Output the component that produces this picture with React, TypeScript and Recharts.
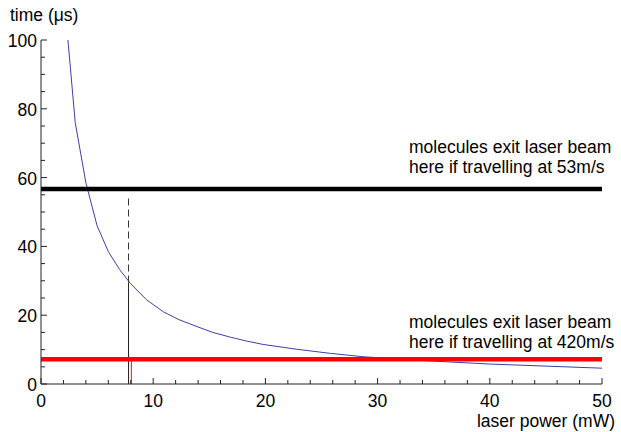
import React from "react"
import {
  ComposedChart,
  Line,
  XAxis,
  YAxis,
  ReferenceLine,
} from "recharts"

// values
const powerMw = [2.4, 3.05, 4, 5, 6, 7, 7.95, 9.4, 10.9, 12.3, 13.9, 15.3, 16.9, 18.3, 19.8, 21.3, 22.8, 25.8, 28.8, 30.3, 34.7, 40, 45, 50]
const timeUs = [100, 76, 58.5, 46, 38.5, 33.3, 29.3, 24.5, 21, 18.7, 16.7, 15, 13.6, 12.5, 11.5, 10.8, 10.1, 8.9, 7.9, 7.6, 6.7, 5.8, 5.2, 4.6]

const xTicks = [0, 2, 4, 6, 8, 10, 12, 14, 16, 18, 20, 22, 24, 26, 28, 30, 32, 34, 36, 38, 40, 42, 44, 46, 48, 50]
const yTicks = [0, 5, 10, 15, 20, 25, 30, 35, 40, 45, 50, 55, 60, 65, 70, 75, 80, 85, 90, 95, 100]

const slowExit = 56.7 // 53 m/s
const fastExit = 7.2 // 420 m/s
const markPower = 7.8
const markTime = 29.5
const dashTop = 54.3
const redMarkPower = 8.05

const data = powerMw.map((p, i) => ({ p, t: timeUs[i] }))

const font = "'Liberation Sans', Arial, sans-serif"
const fs = 17.5
const axisColor = "#222"

function XTick(props: any) {
  const { x, y, payload } = props
  const v = payload.value
  const major = v % 10 === 0
  return (
    <g>
      <line x1={x} x2={x} y1={y} y2={y - (major ? 6 : 4)} stroke={axisColor} />
      {major && (
        <text x={x} y={y + 23} textAnchor="middle" fontSize={fs} fontFamily={font} fill="#000">
          {v}
        </text>
      )}
    </g>
  )
}

function YTick(props: any) {
  const { x, y, payload } = props
  const v = payload.value
  const major = v % 20 === 0
  return (
    <g>
      <line x1={x} x2={x + (major ? 6 : 4)} y1={y} y2={y} stroke={axisColor} />
      {major && (
        <text x={x - 4} y={y + 7} textAnchor="end" fontSize={fs} fontFamily={font} fill="#000">
          {v}
        </text>
      )}
    </g>
  )
}

function note(lines: string[], off1: number, off2: number) {
  return (props: any) => {
    const vb = props.viewBox
    return (
      <g fontSize={fs} fontFamily={font} fill="#000">
        <text x={409} y={vb.y + off1}>{lines[0]}</text>
        <text x={409} y={vb.y + off2}>{lines[1]}</text>
      </g>
    )
  }
}

export default function App() {
  return (
    <div style={{ position: "absolute", left: 0, top: 0, background: "#fff" }}>
      <ComposedChart
        width={621}
        height={432}
        data={data}
        margin={{ top: 40, right: 19, bottom: 18, left: 0 }}
      >
        <XAxis
          dataKey="p"
          type="number"
          domain={[0, 50]}
          ticks={xTicks}
          interval={0}
          tick={<XTick />}
          tickLine={false}
          tickSize={0}
          tickMargin={0}
          height={30}
          axisLine={{ stroke: axisColor }}
          label={(props: any) => {
            const vb = props.viewBox
            return (
              <text
                x={vb.x + vb.width + 13}
                y={vb.y + 43}
                textAnchor="end"
                fontSize={fs}
                fontFamily={font}
                fill="#000"
              >
                laser power (mW)
              </text>
            )
          }}
        />
        <YAxis
          type="number"
          domain={[0, 100]}
          ticks={yTicks}
          interval={0}
          tick={<YTick />}
          tickLine={false}
          tickSize={0}
          tickMargin={0}
          width={41}
          axisLine={{ stroke: axisColor }}
          label={(props: any) => {
            const vb = props.viewBox
            return (
              <text x={vb.x + 10} y={vb.y - 19} fontSize={fs} fontFamily={font} fill="#000">
                time (μs)
              </text>
            )
          }}
        />
        <Line
          dataKey="t"
          type="linear"
          stroke="#3f3fa6"
          strokeWidth={1}
          dot={false}
          isAnimationActive={false}
        />
        <ReferenceLine
          segment={[{ x: markPower, y: 0 }, { x: markPower, y: markTime }]}
          stroke="#222"
          strokeWidth={1}
        />
        <ReferenceLine
          segment={[{ x: markPower, y: markTime }, { x: markPower, y: dashTop }]}
          stroke="#333"
          strokeWidth={1}
          strokeDasharray="7 4"
        />
        <ReferenceLine
          segment={[{ x: redMarkPower, y: 0 }, { x: redMarkPower, y: fastExit }]}
          stroke="#f00"
          strokeWidth={1}
        />
        <ReferenceLine
          y={slowExit}
          stroke="#000"
          strokeWidth={4.5}
          label={note(["molecules exit laser beam", "here if travelling at 53m/s"], -36, -16)}
        />
        <ReferenceLine
          y={fastExit}
          stroke="#f00"
          strokeWidth={4.5}
          label={note(["molecules exit laser beam", "here if travelling at 420m/s"], -31.5, -11.5)}
        />
      </ComposedChart>
    </div>
  )
}
